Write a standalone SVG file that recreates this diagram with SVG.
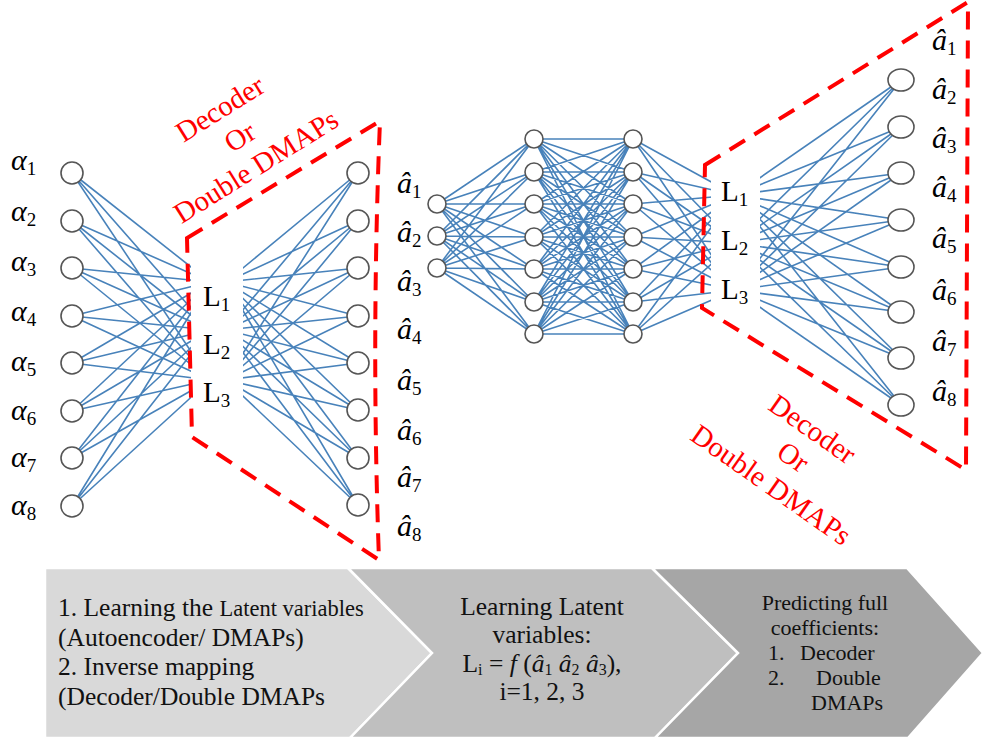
<svg xmlns="http://www.w3.org/2000/svg" width="984" height="742" viewBox="0 0 984 742">
<style>
.e{fill:none;stroke:#3474b3;stroke-width:1.6;stroke-opacity:0.9}
.n{fill:#fff;stroke:#555;stroke-width:1.6}
.m{font-family:"Liberation Serif","Times New Roman",serif;font-style:italic;font-size:30px;fill:#000}
.s{font-style:normal;font-size:19px}
.L{font-family:"Liberation Serif","Times New Roman",serif;font-size:29px;fill:#000}
.ls{font-size:19px}
.r{fill:none;stroke:#f00;stroke-width:4;stroke-dasharray:18 11}
.rt{font-family:"Liberation Serif","Times New Roman",serif;font-size:29px;fill:#f00;text-anchor:middle}
.bx{font-family:"Liberation Serif","Times New Roman",serif;font-size:25.5px;fill:#111}
.bx3{font-family:"Liberation Serif","Times New Roman",serif;font-size:22px;fill:#111}
.sep{stroke:#fff;stroke-width:2.5}
</style>

<g id="process">
<g id="step1"><polygon class="sep" fill="#d9d9d9" points="45,568 348,568 432,653 350,738 45,738"/>
<text class="bx" x="58" y="616">1. Learning the <tspan font-size="22.5">Latent variables</tspan></text>
<text class="bx" x="58" y="646">(Autoencoder/ DMAPs)</text>
<text class="bx" x="58" y="675">2. Inverse mapping</text>
<text class="bx" x="58" y="705">(Decoder/Double DMAPs</text>
</g>
<g id="step2"><polygon class="sep" fill="#bfbfbf" points="348,568 652,568 738,653 655,738 350,738 432,653"/>
<text class="bx" x="542" y="615" text-anchor="middle">Learning Latent</text>
<text class="bx" x="542" y="643" text-anchor="middle">variables:</text>
<text class="bx" x="542" y="672" text-anchor="middle">L<tspan font-size="16" dy="3">i</tspan><tspan dy="-3"> = </tspan><tspan font-style="italic">f</tspan> (<tspan font-style="italic">â</tspan><tspan font-size="16" dy="3">1</tspan><tspan dy="-3"> </tspan><tspan font-style="italic">â</tspan><tspan font-size="16" dy="3">2</tspan><tspan dy="-3"> </tspan><tspan font-style="italic">â</tspan><tspan font-size="16" dy="3">3</tspan><tspan dy="-3">),</tspan></text>
<text class="bx" x="542" y="700" text-anchor="middle">i=1, 2, 3</text>
</g>
<g id="step3"><polygon class="sep" fill="#a6a6a6" points="652,568 907,568 983,653 908,738 655,738 738,653"/>
<text class="bx3" x="825" y="610" text-anchor="middle">Predicting full</text>
<text class="bx3" x="825" y="635" text-anchor="middle">coefficients:</text>
<text class="bx3" x="768" y="660">1.</text><text class="bx3" x="800" y="660">Decoder</text>
<text class="bx3" x="768" y="685">2.</text><text class="bx3" x="816" y="685">Double</text>
<text class="bx3" x="811" y="710">DMAPs</text>
</g>
</g>

<g id="connectors">
<path class="e" d="M72,173L210,282M72,173L210,330M72,173L210,380M72,221L210,282M72,221L210,330M72,221L210,380M72,268L210,282M72,268L210,330M72,268L210,380M72,316L210,282M72,316L210,330M72,316L210,380M72,363L210,282M72,363L210,330M72,363L210,380M72,411L210,282M72,411L210,330M72,411L210,380M72,458L210,282M72,458L210,330M72,458L210,380M72,506L210,282M72,506L210,330M72,506L210,380"/>
<path class="e" d="M226,282L358,173M226,330L358,173M226,380L358,173M226,282L358,221M226,330L358,221M226,380L358,221M226,282L358,268M226,330L358,268M226,380L358,268M226,282L358,316M226,330L358,316M226,380L358,316M226,282L358,363M226,330L358,363M226,380L358,363M226,282L358,410M226,330L358,410M226,380L358,410M226,282L358,458M226,330L358,458M226,380L358,458M226,282L358,505M226,330L358,505M226,380L358,505"/>
<path class="e" d="M437,204L534,139M437,204L534,172M437,204L534,204M437,204L534,237M437,204L534,269M437,204L534,302M437,204L534,334M437,236L534,139M437,236L534,172M437,236L534,204M437,236L534,237M437,236L534,269M437,236L534,302M437,236L534,334M437,268L534,139M437,268L534,172M437,268L534,204M437,268L534,237M437,268L534,269M437,268L534,302M437,268L534,334"/>
<path class="e" d="M534,139L633,139M534,139L633,172M534,139L633,204M534,139L633,237M534,139L633,269M534,139L633,302M534,139L633,334M534,172L633,139M534,172L633,172M534,172L633,204M534,172L633,237M534,172L633,269M534,172L633,302M534,172L633,334M534,204L633,139M534,204L633,172M534,204L633,204M534,204L633,237M534,204L633,269M534,204L633,302M534,204L633,334M534,237L633,139M534,237L633,172M534,237L633,204M534,237L633,237M534,237L633,269M534,237L633,302M534,237L633,334M534,269L633,139M534,269L633,172M534,269L633,204M534,269L633,237M534,269L633,269M534,269L633,302M534,269L633,334M534,302L633,139M534,302L633,172M534,302L633,204M534,302L633,237M534,302L633,269M534,302L633,302M534,302L633,334M534,334L633,139M534,334L633,172M534,334L633,204M534,334L633,237M534,334L633,269M534,334L633,302M534,334L633,334"/>
<path class="e" d="M633,139L735,195M633,139L735,243M633,139L735,290M633,172L735,195M633,172L735,243M633,172L735,290M633,204L735,195M633,204L735,243M633,204L735,290M633,237L735,195M633,237L735,243M633,237L735,290M633,269L735,195M633,269L735,243M633,269L735,290M633,302L735,195M633,302L735,243M633,302L735,290M633,334L735,195M633,334L735,243M633,334L735,290"/>
<path class="e" d="M735,195L901,80M735,243L901,80M735,290L901,80M735,195L901,127M735,243L901,127M735,290L901,127M735,195L901,173M735,243L901,173M735,290L901,173M735,195L901,220M735,243L901,220M735,290L901,220M735,195L901,267M735,243L901,267M735,290L901,267M735,195L901,312M735,243L901,312M735,290L901,312M735,195L901,358M735,243L901,358M735,290L901,358M735,195L901,405M735,243L901,405M735,290L901,405"/>
</g>

<g id="latent-left">
<rect x="191" y="262" width="52" height="158" fill="#fff"/>
<text class="L" x="203" y="306">L<tspan class="ls" dy="5">1</tspan></text>
<text class="L" x="203" y="354">L<tspan class="ls" dy="5">2</tspan></text>
<text class="L" x="203" y="402">L<tspan class="ls" dy="5">3</tspan></text>
</g>
<g id="latent-right">
<rect x="711" y="160" width="49" height="152" fill="#fff"/>
<text class="L" x="721" y="201">L<tspan class="ls" dy="5">1</tspan></text>
<text class="L" x="721" y="250">L<tspan class="ls" dy="5">2</tspan></text>
<text class="L" x="721" y="299">L<tspan class="ls" dy="5">3</tspan></text>
</g>

<g id="left-inputs">
<g id="in1"><circle class="n" cx="72" cy="173" r="11"/><text class="m" x="11" y="170">α<tspan class="s" dy="5">1</tspan></text></g>
<g id="in2"><circle class="n" cx="72" cy="221" r="11"/><text class="m" x="11" y="221">α<tspan class="s" dy="5">2</tspan></text></g>
<g id="in3"><circle class="n" cx="72" cy="268" r="11"/><text class="m" x="11" y="271">α<tspan class="s" dy="5">3</tspan></text></g>
<g id="in4"><circle class="n" cx="72" cy="316" r="11"/><text class="m" x="11" y="321">α<tspan class="s" dy="5">4</tspan></text></g>
<g id="in5"><circle class="n" cx="72" cy="363" r="11"/><text class="m" x="11" y="371">α<tspan class="s" dy="5">5</tspan></text></g>
<g id="in6"><circle class="n" cx="72" cy="411" r="11"/><text class="m" x="11" y="420">α<tspan class="s" dy="5">6</tspan></text></g>
<g id="in7"><circle class="n" cx="72" cy="458" r="11"/><text class="m" x="11" y="467">α<tspan class="s" dy="5">7</tspan></text></g>
<g id="in8"><circle class="n" cx="72" cy="506" r="11"/><text class="m" x="11" y="515">α<tspan class="s" dy="5">8</tspan></text></g>
</g>

<g id="left-outputs">
<g id="out1"><circle class="n" cx="358" cy="173" r="11"/><text class="m" x="397" y="193">â<tspan class="s" dy="5">1</tspan></text></g>
<g id="out2"><circle class="n" cx="358" cy="221" r="11"/><text class="m" x="397" y="242">â<tspan class="s" dy="5">2</tspan></text></g>
<g id="out3"><circle class="n" cx="358" cy="268" r="11"/><text class="m" x="397" y="291">â<tspan class="s" dy="5">3</tspan></text></g>
<g id="out4"><circle class="n" cx="358" cy="316" r="11"/><text class="m" x="397" y="339">â<tspan class="s" dy="5">4</tspan></text></g>
<g id="out5"><circle class="n" cx="358" cy="363" r="11"/><text class="m" x="397" y="390">â<tspan class="s" dy="5">5</tspan></text></g>
<g id="out6"><circle class="n" cx="358" cy="410" r="11"/><text class="m" x="397" y="440">â<tspan class="s" dy="5">6</tspan></text></g>
<g id="out7"><circle class="n" cx="358" cy="458" r="11"/><text class="m" x="397" y="487">â<tspan class="s" dy="5">7</tspan></text></g>
<g id="out8"><circle class="n" cx="358" cy="505" r="11"/><text class="m" x="397" y="536">â<tspan class="s" dy="5">8</tspan></text></g>
</g>

<g id="mid-input">
<circle id="mi1" class="n" cx="437" cy="204" r="9"/>
<circle id="mi2" class="n" cx="437" cy="236" r="9"/>
<circle id="mi3" class="n" cx="437" cy="268" r="9"/>
</g>
<g id="mid-hidden1">
<circle id="h1a" class="n" cx="534" cy="139" r="9"/>
<circle id="h1b" class="n" cx="534" cy="172" r="9"/>
<circle id="h1c" class="n" cx="534" cy="204" r="9"/>
<circle id="h1d" class="n" cx="534" cy="237" r="9"/>
<circle id="h1e" class="n" cx="534" cy="269" r="9"/>
<circle id="h1f" class="n" cx="534" cy="302" r="9"/>
<circle id="h1g" class="n" cx="534" cy="334" r="9"/>
</g>
<g id="mid-hidden2">
<circle id="h2a" class="n" cx="633" cy="139" r="9"/>
<circle id="h2b" class="n" cx="633" cy="172" r="9"/>
<circle id="h2c" class="n" cx="633" cy="204" r="9"/>
<circle id="h2d" class="n" cx="633" cy="237" r="9"/>
<circle id="h2e" class="n" cx="633" cy="269" r="9"/>
<circle id="h2f" class="n" cx="633" cy="302" r="9"/>
<circle id="h2g" class="n" cx="633" cy="334" r="9"/>
</g>

<g id="right-outputs">
<g id="r1"><ellipse class="n" cx="901" cy="80" rx="13" ry="11"/><text class="m" x="932" y="50">â<tspan class="s" dy="5">1</tspan></text></g>
<g id="r2"><ellipse class="n" cx="901" cy="127" rx="13" ry="11"/><text class="m" x="932" y="99">â<tspan class="s" dy="5">2</tspan></text></g>
<g id="r3"><ellipse class="n" cx="901" cy="173" rx="13" ry="11"/><text class="m" x="932" y="148">â<tspan class="s" dy="5">3</tspan></text></g>
<g id="r4"><ellipse class="n" cx="901" cy="220" rx="13" ry="11"/><text class="m" x="932" y="197">â<tspan class="s" dy="5">4</tspan></text></g>
<g id="r5"><ellipse class="n" cx="901" cy="267" rx="13" ry="11"/><text class="m" x="932" y="248">â<tspan class="s" dy="5">5</tspan></text></g>
<g id="r6"><ellipse class="n" cx="901" cy="312" rx="13" ry="11"/><text class="m" x="932" y="300">â<tspan class="s" dy="5">6</tspan></text></g>
<g id="r7"><ellipse class="n" cx="901" cy="358" rx="13" ry="11"/><text class="m" x="932" y="351">â<tspan class="s" dy="5">7</tspan></text></g>
<g id="r8"><ellipse class="n" cx="901" cy="405" rx="13" ry="11"/><text class="m" x="932" y="401">â<tspan class="s" dy="5">8</tspan></text></g>
</g>

<g id="decoder-left">
<path class="r" d="M187,238 L380,121 Q371,340 379,560 L192,437 Z"/>
<g transform="translate(240,137) rotate(-32)">
<text class="rt" x="-2" y="-25">Decoder</text>
<text class="rt" x="0" y="9.5">Or</text>
<text class="rt" x="-2" y="43">Double DMAPs</text>
</g>
</g>
<g id="decoder-right">
<path class="r" d="M705,165 L968,2 L966,470 L702,308 Z"/>
<g transform="translate(793,457) rotate(35)">
<text class="rt" x="0" y="-24.5">Decoder</text>
<text class="rt" x="0" y="9.5">Or</text>
<text class="rt" x="-2" y="45">Double DMAPs</text>
</g>
</g>
</svg>
